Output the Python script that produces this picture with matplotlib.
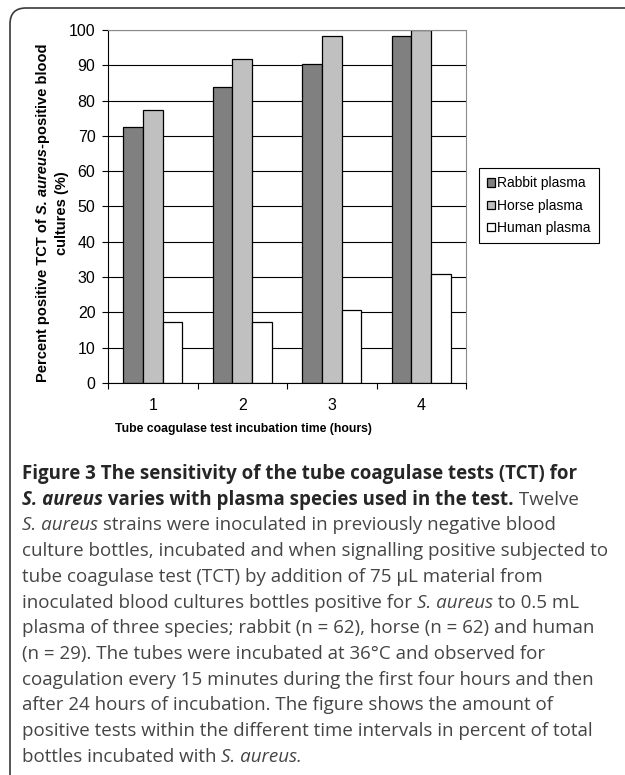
import matplotlib

matplotlib.use("Agg")
import matplotlib.pyplot as plt
import numpy as np
from matplotlib.patches import FancyBboxPatch
from matplotlib.transforms import IdentityTransform

hours = ["1", "2", "3", "4"]
rabbit = [72.6, 83.9, 90.3, 98.4]
horse = [77.4, 91.9, 98.4, 100.0]
human = [17.2, 17.2, 20.7, 31.0]
series_names = ["Rabbit plasma", "Horse plasma", "Human plasma"]
series_colors = ["#808080", "#c0c0c0", "#ffffff"]

caption_lines = [
    [("Figure 3 The sensitivity of the tube coagulase tests (TCT) for", "b")],
    [("S. aureus", "bi"), (" varies with plasma species used in the test.", "b"), (" Twelve", "r")],
    [("S. aureus", "i"), (" strains were inoculated in previously negative blood", "r")],
    [("culture bottles, incubated and when signalling positive subjected to", "r")],
    [("tube coagulase test (TCT) by addition of 75 µL material from", "r")],
    [("inoculated blood cultures bottles positive for ", "r"), ("S. aureus", "i"), (" to 0.5 mL", "r")],
    [("plasma of three species; rabbit (n = 62), horse (n = 62) and human", "r")],
    [("(n = 29). The tubes were incubated at 36°C and observed for", "r")],
    [("coagulation every 15 minutes during the first four hours and then", "r")],
    [("after 24 hours of incubation. The figure shows the amount of", "r")],
    [("positive tests within the different time intervals in percent of total", "r")],
    [("bottles incubated with ", "r"), ("S. aureus.", "i")],
]

W, H = 625, 775
fig = plt.figure(figsize=(W / 100, H / 100), dpi=100)
renderer = fig.canvas.get_renderer()

STYLES = {
    "b": dict(fontweight="bold", fontstyle="normal", color="#262626"),
    "bi": dict(fontweight="bold", fontstyle="italic", color="#262626"),
    "r": dict(fontweight="normal", fontstyle="normal", color="#454545"),
    "i": dict(fontweight="normal", fontstyle="italic", color="#454545"),
}


def text_width(s, **kw):
    t1 = fig.text(0, 0, "|" + s + "|", **kw)
    t2 = fig.text(0, 0, "||", **kw)
    w = t1.get_window_extent(renderer).width - t2.get_window_extent(renderer).width
    t1.remove()
    t2.remove()
    return w


def draw_runs(x, y, runs, rotation=0, center=False, **kw):
    # x, y in pixels from the top-left corner
    widths = [text_width(s, **kw, **st) for s, st in runs]
    pos = -sum(widths) / 2 if center else 0
    for (s, st), w in zip(runs, widths):
        if rotation == 0:
            px, py = x + pos, y
        else:
            px, py = x, y - pos
        fig.text(px / W, 1 - py / H, s, rotation=rotation, rotation_mode="anchor",
                 ha="left", va="center", **kw, **st)
        pos += w


# rounded frame around the figure
frame = FancyBboxPatch((10, -20), 640, 787, boxstyle="round,pad=0,rounding_size=16",
                       transform=IdentityTransform(), facecolor="none",
                       edgecolor="#3a3a3a", linewidth=1.2)
fig.patches.append(frame)

ax = fig.add_axes([108 / W, 1 - 383 / H, (466 - 108) / W, (383 - 30) / H])
x = np.arange(1, len(hours) + 1)
width = 0.22
bars = []
for i, (vals, name, col) in enumerate(zip([rabbit, horse, human], series_names, series_colors)):
    bars.append(ax.bar(x + (i - 1) * width, vals, width, color=col, edgecolor="black",
                       linewidth=0.9, label=name, zorder=2))

ax.set_xlim(0.5, 4.5)
ax.set_ylim(0, 100)
ax.set_yticks(np.arange(0, 101, 10))
ax.set_xticks(x)
ax.set_xticklabels(hours)
ax.set_xticks(np.arange(0.5, 4.6, 1), minor=True)
ax.tick_params(axis="x", which="major", length=0, pad=11)
ax.tick_params(axis="x", which="minor", length=4, width=0.8, direction="out")
ax.tick_params(axis="y", length=4, width=0.8, direction="out", pad=5)
for lab in ax.get_xticklabels() + ax.get_yticklabels():
    lab.set_fontfamily("Liberation Sans")
    lab.set_fontsize(11.5)
ax.yaxis.grid(True, color="black", linewidth=0.8, zorder=0)
ax.set_axisbelow(True)
ax.spines["left"].set_color("black")
ax.spines["bottom"].set_color("black")
ax.spines["top"].set_color("#8c8c8c")
ax.spines["right"].set_color("#8c8c8c")
for sp in ax.spines.values():
    sp.set_linewidth(0.8)

fig.legend(handles=bars, loc="upper left", bbox_to_anchor=(479 / W, 1 - 168 / H),
           prop={"family": "Liberation Sans", "size": 10}, frameon=True, fancybox=False,
           edgecolor="black", framealpha=1, handlelength=0.55, handleheight=0.55,
           handletextpad=0.15, labelspacing=0.6, borderpad=0.6, borderaxespad=0)
fig.legends[0].get_frame().set_linewidth(0.8)

# y axis label, two lines, with italic species name
ylab_kw = dict(family=["Liberation Sans"], fontsize=10.5)
draw_runs(43, 213, [("Percent positive TCT of ", STYLES["b"] | {"color": "black"}),
                    ("S. aureus", STYLES["bi"] | {"color": "black"}),
                    ("-positive blood", STYLES["b"] | {"color": "black"})],
          rotation=90, center=True, **ylab_kw)
draw_runs(62, 213, [("cultures (%)", STYLES["b"] | {"color": "black"})],
          rotation=90, center=True, **ylab_kw)

fig.text(243 / W, 1 - 429 / H, "Tube coagulase test incubation time (hours)",
         family=["Liberation Sans"], fontweight="bold",
         fontsize=8.8, ha="center", va="center")

# caption
cap_kw = dict(family=["Open Sans", "DejaVu Sans"], fontsize=13.5)
for i, line in enumerate(caption_lines):
    draw_runs(22, 474 + 25.7 * i, [(s, STYLES[k]) for s, k in line], **cap_kw)

fig.savefig("out.png", dpi=100)
